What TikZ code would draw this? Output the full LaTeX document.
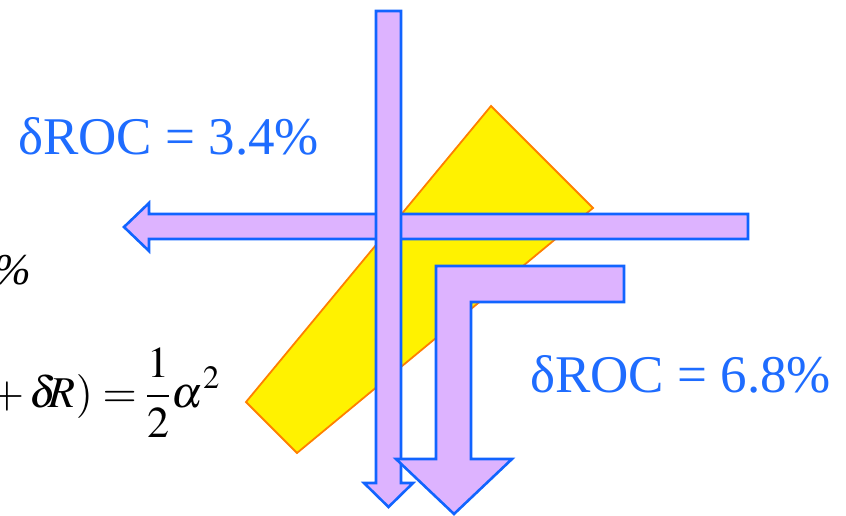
\documentclass[tikz,border=0pt]{standalone}
\usepackage{mathptmx}
\usepackage{fontspec}
\setmainfont{Liberation Serif}
\usepackage{xcolor}
\usepackage{tikz}
\usetikzlibrary{positioning}

\definecolor{rocblue}{RGB}{30,108,255}
\definecolor{edgeblue}{RGB}{17,100,255}
\definecolor{lav}{RGB}{221,179,255}
\definecolor{prismorange}{RGB}{255,128,0}

\begin{document}
\begin{tikzpicture}[x=1pt,y=-1pt]
\tikzstyle{band}=[fill=lav,draw=edgeblue,line width=2.6pt]
\tikzstyle{prism}=[fill=yellow,draw=prismorange,line width=1.8pt,line join=miter]
\tikzstyle{roc}=[inner sep=0pt,text=rocblue,font=\fontsize{53}{60}\selectfont]
\tikzstyle{eq}=[inner sep=0pt,text=black,font=\fontsize{44}{50}\selectfont]
\clip (0,0) rectangle (846,516);
% tilted yellow block
\draw[prism] (491,106)--(593,208)--(297,453)--(246,402)--cycle;
% beam to the left
\draw[band] (748,214)--(748,239)--(149,239)--(149,251)--(124,227)--(149,203)--(149,214)--cycle;
% beam straight down
\draw[band] (376,11)--(401,11)--(401,483)--(413,483)--(388.5,507)--(364,483)--(376,483)--cycle;
% bent beam
\draw[band] (436,266)--(624,266)--(624,302)--(471,302)--(471,459)--(512,459)--(454,514)--(396,459)--(436,459)--cycle;
% labels
\node[roc,anchor=base west] (r1) at (18,155) {δROC = 3.4\%};
\node[roc,anchor=base west] (r2) at (530,392) {δROC = 6.8\%};
\node[eq,anchor=base east] (pc) at (31,284) {\itshape\%};
\node[eq,anchor=base east] (fmL) at (137,407) {\medmuskip=2mu\thickmuskip=4mu$R+\delta\mkern-3mu R)=$};
\node[eq,anchor=base west] (fmR) at (147,407) {\nulldelimiterspace=0pt$\displaystyle\frac{1}{2}\mkern1mu\alpha^{2}$};
\end{tikzpicture}
\end{document}
